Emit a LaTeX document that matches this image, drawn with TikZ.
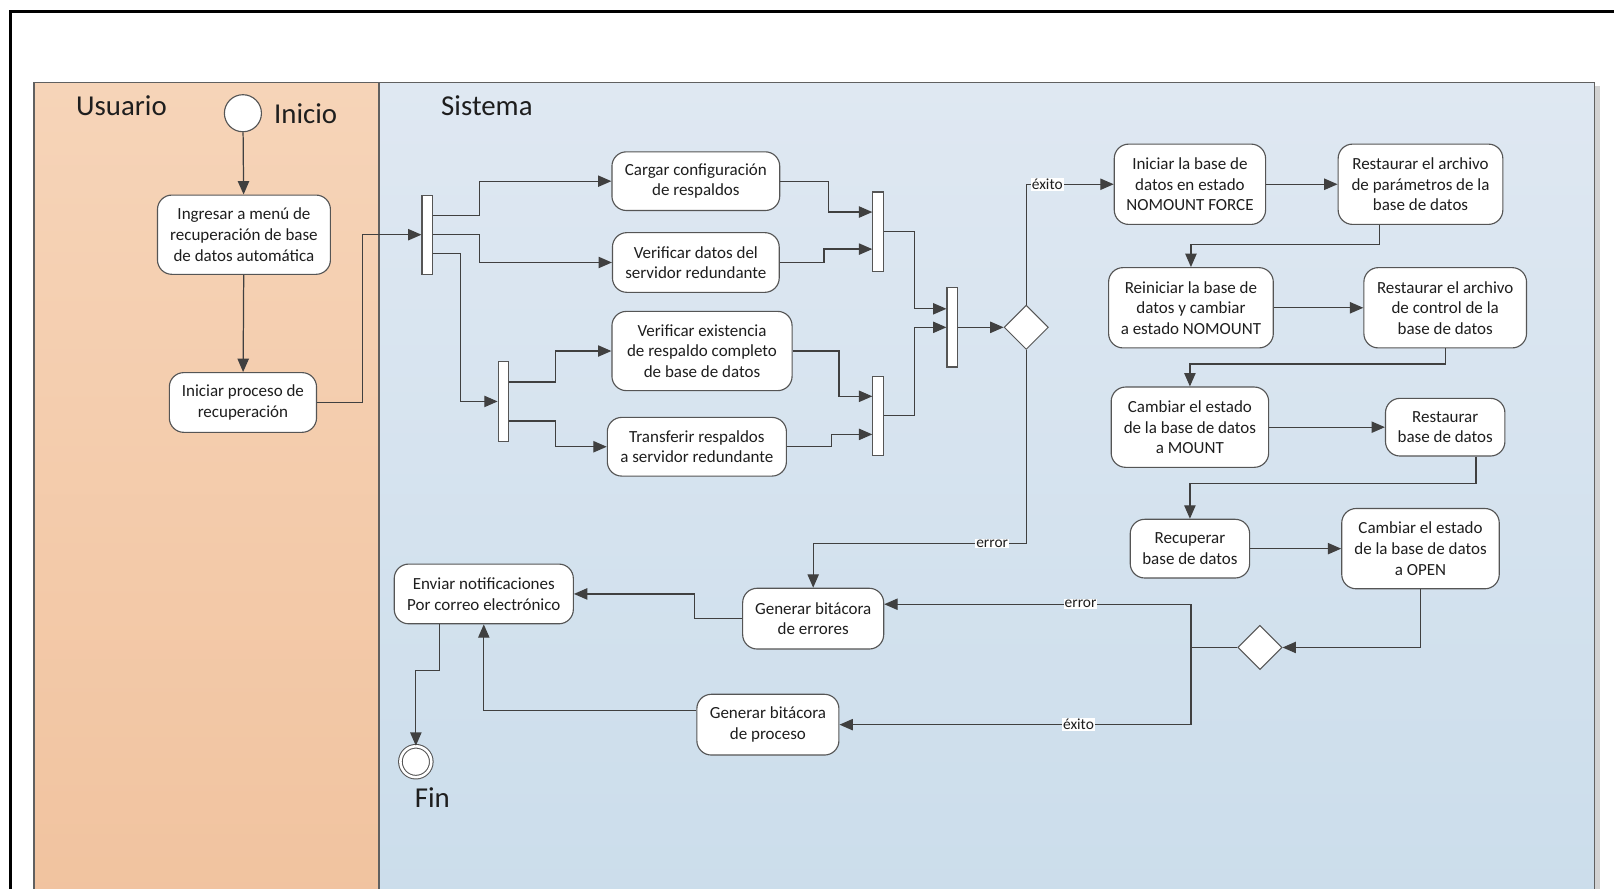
\documentclass[tikz,border=0pt]{standalone}
\usepackage{fontspec}
\setmainfont{Carlito}
\usetikzlibrary{shapes.geometric,arrows.meta}

\definecolor{linea}{RGB}{64,64,64}
\definecolor{borde}{RGB}{85,85,85}
\definecolor{usuarioA}{RGB}{246,212,184}
\definecolor{usuarioB}{RGB}{241,195,159}
\definecolor{sistemaA}{RGB}{223,232,242}
\definecolor{sistemaB}{RGB}{203,221,235}
\definecolor{texto}{RGB}{30,30,30}

\tikzset{
  actividad/.style={draw=borde, line width=1.1pt, fill=white, rounded corners=14pt, align=center, inner sep=2pt, text=texto, font=\fontsize{16.5}{20}\selectfont},
  barra/.style={draw=borde, line width=1.1pt, fill=white, minimum width=10pt, minimum height=77pt, inner sep=0pt},
  decision/.style={diamond, draw=borde, line width=1pt, fill=white, minimum width=43pt, minimum height=43pt, inner sep=0pt},
  flecha/.style={draw=linea, line width=1.2pt, -{Triangle[length=13pt,width=11pt]}},
  etiqueta/.style={fill=white, inner sep=1pt, text=texto, font=\fontsize{15}{17}\selectfont},
  carril/.style={draw=gray!75!black, line width=1.4pt},
  titulo/.style={text=texto, font=\fontsize{28}{32}\selectfont}
}

\begin{document}
\begin{tikzpicture}[x=1pt, y=-1pt]
\clip (0,0) rectangle (1568,863);
\fill[white] (0,0) rectangle (1568,863);

\draw[line width=2.5pt, black] (10,880) -- (10,11) -- (1580,11);
\fill[gray!35] (1549,84) rectangle (1554,880);
\shade[top color=usuarioA, bottom color=usuarioB] (33,80) rectangle (368,880);
\shade[top color=sistemaA, bottom color=sistemaB] (368,80) rectangle (1549,880);
\draw[carril] (33,880) -- (33,80) -- (1549,80) -- (1549,880);
\draw[carril] (368,80) -- (368,880);

\node[titulo] (usuario) at (118,103) {Usuario};
\node[titulo] (sistema) at (473,103) {Sistema};
\node[circle, draw=borde, line width=1.1pt, fill=white, minimum size=36pt, inner sep=0pt] (inicio) at (236,110) {};
\node[titulo] (txtinicio) at (297,110) {Inicio};

\node[actividad, minimum width=168pt, minimum height=77pt] (ingresar) at (237,228) {Ingresar a menú de\\recuperación de base\\de datos automática};
\node[actividad, minimum width=143pt, minimum height=58pt] (iniciar) at (236,391) {Iniciar proceso de\\recuperación};

\node[barra] (fork1) at (415,228) {};
\node[barra] (fork2) at (489,390) {};
\node[actividad, minimum width=163pt, minimum height=57pt] (cargar) at (676,176) {Cargar configuración\\de respaldos};
\node[actividad, minimum width=162pt, minimum height=58pt] (verifdatos) at (676,255) {Verificar datos del\\servidor redundante};
\node[actividad, minimum width=175pt, minimum height=77pt] (verifexist) at (682,341) {Verificar existencia\\de respaldo completo\\de base de datos};
\node[actividad, minimum width=174pt, minimum height=57pt] (transferir) at (677,434) {Transferir respaldos\\a servidor redundante};
\node[barra] (join1) at (853,225) {};
\node[barra] (join2) at (853,404) {};
\node[barra] (join3) at (925,318) {};
\node[decision] (dec1) at (997,318) {};

\node[actividad, minimum width=147pt, minimum height=78pt] (nomount) at (1156,179) {Iniciar la base de\\datos en estado\\NOMOUNT FORCE};
\node[actividad, minimum width=160pt, minimum height=78pt] (parametros) at (1380,179) {Restaurar el archivo\\de parámetros de la\\base de datos};
\node[actividad, minimum width=160pt, minimum height=78pt] (reiniciar) at (1157,299) {Reiniciar la base de\\datos y cambiar\\a estado NOMOUNT};
\node[actividad, minimum width=158pt, minimum height=78pt] (control) at (1404,299) {Restaurar el archivo\\de control de la\\base de datos};
\node[actividad, minimum width=153pt, minimum height=78pt] (mount) at (1156,415) {Cambiar el estado\\de la base de datos\\a MOUNT};
\node[actividad, minimum width=116pt, minimum height=56pt] (restaurar) at (1404,415) {Restaurar\\base de datos};
\node[actividad, minimum width=116pt, minimum height=57pt] (recuperar) at (1156,533) {Recuperar\\base de datos};
\node[actividad, minimum width=153pt, minimum height=78pt] (open) at (1380,533) {Cambiar el estado\\de la base de datos\\a OPEN};
\node[decision] (dec2) at (1224,629) {};

\node[actividad, minimum width=137pt, minimum height=59pt] (errores) at (790,601) {Generar bitácora\\de errores};
\node[actividad, minimum width=138pt, minimum height=59pt] (proceso) at (746,704) {Generar bitácora\\de proceso};
\node[actividad, minimum width=174pt, minimum height=58pt] (enviar) at (470,577) {Enviar notificaciones\\Por correo electrónico};
\node[circle, draw=borde, line width=1pt, double=white, double distance=2.5pt, fill=white, minimum size=30pt, inner sep=0pt] (fin) at (404,740) {};
\node[titulo] (txtfin) at (420,775) {Fin};

\draw[flecha] (inicio) -- (ingresar);
\draw[flecha] (ingresar) -- (iniciar);
\draw[flecha] (iniciar.east) -- ++(44,0) |- (fork1);

\draw[flecha] ([yshift=19pt]fork1.east) -- ++(45,0) |- (cargar);
\draw[flecha] (fork1.east) -- ++(45,0) |- (verifdatos);
\draw[flecha] ([yshift=-18pt]fork1.east) -- ++(27,0) |- (fork2);
\draw[flecha] ([yshift=19pt]fork2.east) -- ++(45,0) |- (verifexist);
\draw[flecha] ([yshift=-19pt]fork2.east) -- ++(45,0) |- (transferir);

\draw[flecha] (cargar.east) -- ++(47,0) |- ([yshift=19pt]join1.west);
\draw[flecha] (verifdatos.east) -- ++(43,0) |- ([yshift=-17pt]join1.west);
\draw[flecha] (verifexist.east) -- ++(45,0) |- ([yshift=19pt]join2.west);
\draw[flecha] (transferir.east) -- ++(43,0) |- ([yshift=-18pt]join2.west);
\draw[flecha] (join1.east) -- ++(30,0) |- ([yshift=18pt]join3.west);
\draw[flecha] (join2.east) -- ++(30,0) |- (join3);
\draw[flecha] (join3) -- (dec1);

\draw[flecha] (dec1.north) |- node[etiqueta, pos=0.62] {éxito} (nomount);
\draw[flecha] (dec1.south) -- ++(0,188) -| node[etiqueta, pos=0.08] {error} (errores);

\draw[flecha] (nomount) -- (parametros);
\draw[flecha] ([xshift=-40pt]parametros.south) -- ++(0,19) -| (reiniciar);
\draw[flecha] (reiniciar) -- (control);
\draw[flecha] (control.south) -- ++(0,15) -| (mount);
\draw[flecha] (mount) -- (restaurar);
\draw[flecha] ([xshift=30pt]restaurar.south) -- ++(0,26) -| (recuperar);
\draw[flecha] (recuperar) -- (open);
\draw[flecha] (open.south) |- (dec2);

\draw[flecha] (dec2.west) -- ++(-45,0) |- node[etiqueta, pos=0.68] {error} ([yshift=14pt]errores.east);
\draw[flecha] (dec2.west) -- ++(-45,0) |- node[etiqueta, pos=0.66] {éxito} (proceso);
\draw[flecha] (errores.west) -- ++(-46,0) |- (enviar);
\draw[flecha] ([yshift=14pt]proceso.west) -| (enviar);
\draw[flecha] ([xshift=-43pt]enviar.south) -- ++(0,45) -| (fin);
\end{tikzpicture}
\end{document}
